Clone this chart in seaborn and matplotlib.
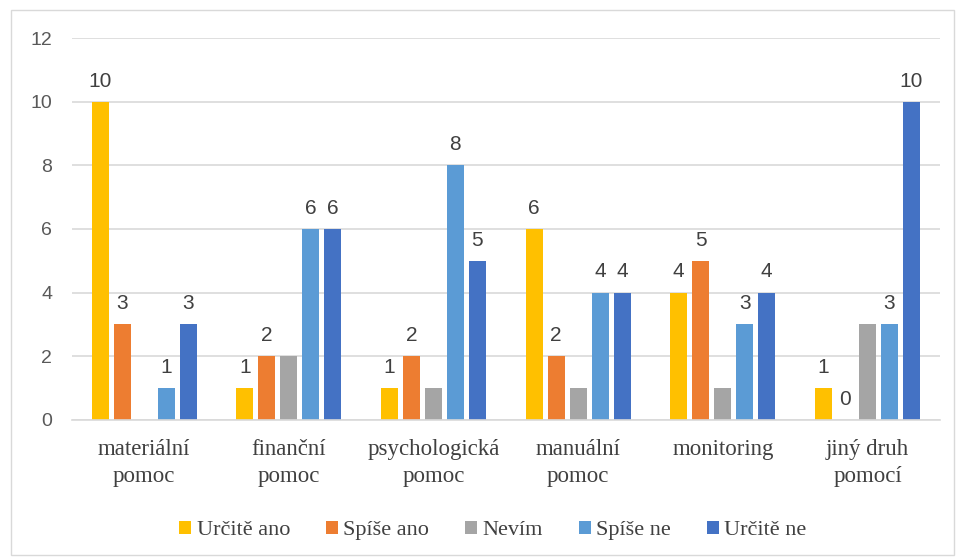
import pandas as pd
import matplotlib.pyplot as plt
import seaborn as sns
from matplotlib.patches import Rectangle

categories = ["materiální\npomoc", "finanční\npomoc", "psychologická\npomoc",
              "manuální\npomoc", "monitoring", "jiný druh\npomocí"]
series = ["Určitě ano", "Spíše ano", "Nevím", "Spíše ne", "Určitě ne"]
urcite_ano = [10, 1, 1, 6, 4, 1]
spise_ano = [3, 2, 2, 2, 5, 0]
nevim = [0, 2, 1, 1, 1, 3]
spise_ne = [1, 6, 8, 4, 3, 3]
urcite_ne = [3, 6, 5, 4, 4, 10]
colors = ["#FFC000", "#ED7D31", "#A5A5A5", "#5B9BD5", "#4472C4"]

values = [urcite_ano, spise_ano, nevim, spise_ne, urcite_ne]
rows = []
for name, vals in zip(series, values):
    for cat, v in zip(categories, vals):
        rows.append({"kategorie": cat, "odpoved": name, "pocet": v})
df = pd.DataFrame(rows)

sns.set_style("white")
fig = plt.figure(figsize=(9.57, 5.59), dpi=100)
ax = fig.add_axes([0.075, 0.249, 0.907, 0.683])

sns.barplot(data=df, x="kategorie", y="pocet", hue="odpoved",
            order=categories, hue_order=series,
            palette=dict(zip(series, colors)), saturation=1,
            width=0.76, gap=0.22, linewidth=0, errorbar=None, ax=ax)

# data labels (Excel left the grey series without labels)
for name, cont in zip(series, ax.containers):
    if name == "Nevím":
        continue
    ax.bar_label(cont, labels=[f"{v:g}" for v in cont.datavalues],
                 padding=8, fontsize=15, color="#404040",
                 family="Liberation Sans")

ax.set_ylim(0, 12)
ax.set_xlim(-0.5, 5.5)
ax.set_yticks(range(0, 13, 2))
ax.yaxis.grid(True, color="#D9D9D9", linewidth=1.2)
ax.set_axisbelow(True)
for s in ["top", "right", "left"]:
    ax.spines[s].set_visible(False)
ax.spines["bottom"].set_color("#D9D9D9")
ax.spines["bottom"].set_linewidth(1.2)
ax.tick_params(axis="both", length=0)
ax.tick_params(axis="y", pad=14, labelsize=14, labelcolor="#595959")
ax.tick_params(axis="x", pad=14, labelsize=16.5, labelcolor="#404040")
for t in ax.get_yticklabels():
    t.set_family("Liberation Sans")
for t in ax.get_xticklabels():
    t.set_family("Liberation Serif")
    t.set_linespacing(1.35)
ax.set_xlabel("")
ax.set_ylabel("")

ax.legend(loc="center", bbox_to_anchor=(0.485, -0.29), ncol=5, frameon=False,
          prop={"family": "Liberation Serif", "size": 16},
          handlelength=0.55, handleheight=0.55, handletextpad=0.25,
          columnspacing=1.6, labelcolor="#404040")

fig.patches.append(Rectangle((0.011, 0.007), 0.986, 0.975, transform=fig.transFigure,
                             fill=False, edgecolor="#D9D9D9", linewidth=1))

plt.savefig("out.png", dpi=100)
